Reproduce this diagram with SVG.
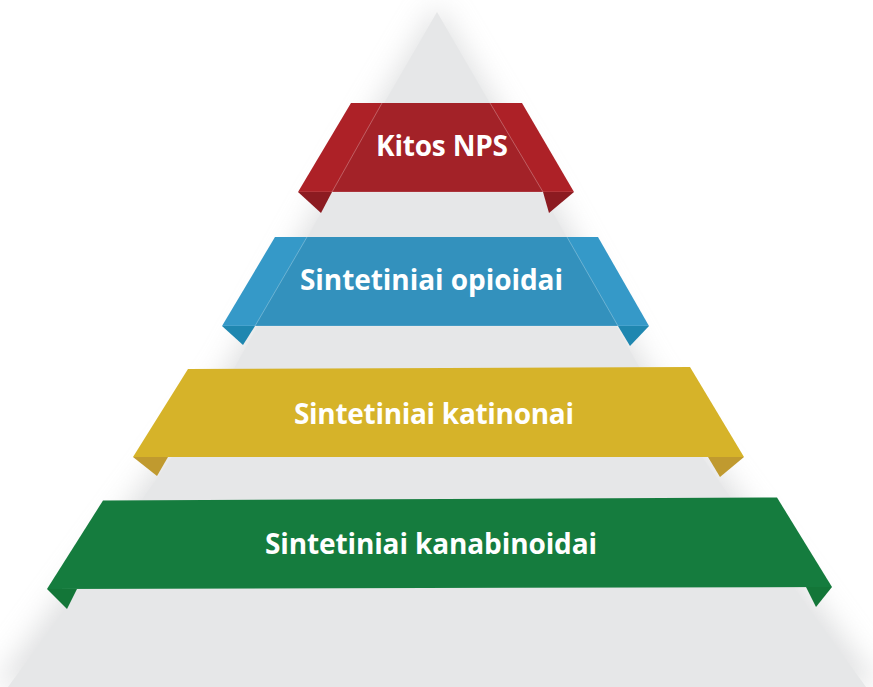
<svg xmlns="http://www.w3.org/2000/svg" width="873" height="687" viewBox="0 0 873 687">
  <defs>
    <filter id="soft" x="-20%" y="-20%" width="140%" height="140%">
      <feGaussianBlur stdDeviation="14"/>
    </filter>
  </defs>
  <style>
    .label { font-family: "Open Sans", "Liberation Sans", sans-serif; font-weight: 700; fill: #ffffff; text-anchor: middle; font-size: 28px; }
    .fold { stroke: #ffffff; stroke-opacity: 0.28; stroke-width: 1; fill: none; }
    .edge { stroke: #ffffff; stroke-opacity: 0.18; stroke-width: 1; fill: none; }
  </style>
  <rect width="873" height="687" fill="#ffffff"/>
  <g id="pyramid">
    <polygon points="437,4 550,193 650,372 824,610 880,687 -6,687 50,610 224,372 324,193" fill="#c9cacc" opacity="0.55" filter="url(#soft)"/>
    <polygon points="437,12 542,193 642,372 810,610 866,687 8,687 64,610 232,372 332,193" fill="#e6e7e8"/>
  </g>
  <g id="node-kitos-nps">
    <polygon points="351,103 522,103 574,192 298,192" fill="#ad2127"/>
    <polygon points="382,103 490,103 543,192 332,192" fill="#a32228"/>
    <line class="fold" x1="382" y1="103" x2="332" y2="192"/>
    <line class="fold" x1="490" y1="103" x2="543" y2="192"/>
    <line class="edge" x1="298" y1="192" x2="574" y2="192"/>
    <polygon points="298,192 332,192 321,213" fill="#8c1b21"/>
    <polygon points="543,192 574,192 549,213" fill="#8c1b21"/>
    <text class="label" x="442" y="156" textLength="132">Kitos NPS</text>
  </g>
  <g id="node-opioidai">
    <polygon points="275,237 598,237 649,326 222,326" fill="#3599c8"/>
    <polygon points="307,237 567,237 618,326 255,326" fill="#3391bd"/>
    <line class="fold" x1="307" y1="237" x2="255" y2="326"/>
    <line class="fold" x1="567" y1="237" x2="618" y2="326"/>
    <line class="edge" x1="222" y1="326" x2="649" y2="326"/>
    <polygon points="222,326 255,326 243,345" fill="#1f87b0"/>
    <polygon points="618,326 649,326 630,346" fill="#1f87b0"/>
    <text class="label" x="431.5" y="290" textLength="263">Sintetiniai opioidai</text>
  </g>
  <g id="node-katinonai">
    <polygon points="188,369 690,367 744,457 133,457" fill="#d6b329"/>
    <polygon points="133,457 168,457 157,476" fill="#c09a2f"/>
    <polygon points="708,457 744,457 720,477" fill="#c09a2f"/>
    <text class="label" x="434" y="424" textLength="280">Sintetiniai katinonai</text>
  </g>
  <g id="node-kanabinoidai">
    <polygon points="103,500.5 777,497.5 832,587 47,589" fill="#157c3e"/>
    <polygon points="47,589 77,589 67,609" fill="#137638"/>
    <polygon points="806,587 832,587 816,607" fill="#137638"/>
    <text class="label" x="431" y="554" textLength="332">Sintetiniai kanabinoidai</text>
  </g>
  <g id="connectors"/>
</svg>
